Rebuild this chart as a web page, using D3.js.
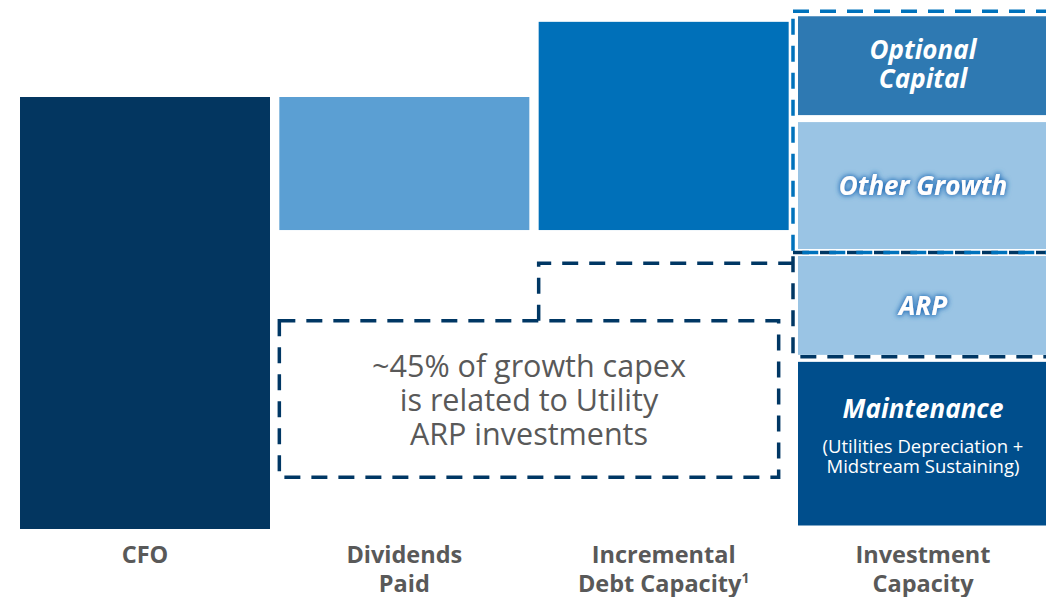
<!DOCTYPE html>
<html>
<head>
<meta charset="utf-8">
<script src="https://cdn.jsdelivr.net/npm/d3@7"></script>
<style>
  body { margin: 0; background: #fff; }
  svg { display: block; font-family: "Open Sans", "Noto Sans", sans-serif; }
</style>
</head>
<body>
<div id="chart"></div>
<script>
// columns of the waterfall
const categories = ['CFO', 'Dividends Paid', 'Incremental Debt Capacity', 'Investment Capacity'];
const categoryLines = [['CFO'], ['Dividends', 'Paid'], ['Incremental', 'Debt Capacity'], ['Investment', 'Capacity']];
// cash flow steps (CFO, dividends out, debt in)
const flowValues = [100, -30.8, 48.2];
const flowColors = ['#033660', '#5b9fd3', '#0070b9'];
// investment capacity stack, bottom to top
const capexSegments = ['Maintenance', 'ARP', 'Other Growth', 'Optional Capital'];
const capexValues = [39.5, 24.5, 31, 24.5];
const capexColors = ['#004e8c', '#9ac4e4', '#9ac4e4', '#2e79b2'];
const calloutLines = ['~45% of growth capex', 'is related to Utility', 'ARP investments'];

const width = 1046;
const height = 597;
const margin = {top: 10, bottom: 68, left: 20, right: -2};
const gap = 7;

const svg = d3.select('#chart')
  .append('svg')
  .attr('width', width)
  .attr('height', height)
  .attr('viewBox', [0, 0, width, height]);

const x = d3.scaleBand()
  .domain(d3.range(categories.length))
  .range([margin.left, width - margin.right])
  .paddingInner(0.036)
  .paddingOuter(0);

const y = d3.scaleLinear()
  .domain([0, 100])
  .range([height - margin.bottom, 97]);

// glow used on the light segments' labels
const defs = svg.append('defs');
const glow = defs.append('filter').attr('id', 'glow')
  .attr('x', '-20%').attr('y', '-50%').attr('width', '140%').attr('height', '200%');
glow.append('feMorphology').attr('in', 'SourceAlpha').attr('operator', 'dilate').attr('radius', 1.2).attr('result', 'd');
glow.append('feGaussianBlur').attr('in', 'd').attr('stdDeviation', 2.6).attr('result', 'b');
glow.append('feFlood').attr('flood-color', '#2a74ba');
glow.append('feComposite').attr('in2', 'b').attr('operator', 'in').attr('result', 'g');
const merge = glow.append('feMerge');
merge.append('feMergeNode').attr('in', 'g');
merge.append('feMergeNode').attr('in', 'SourceGraphic');

// waterfall bars
let running = 0;
const flowBars = flowValues.map((v, i) => {
  const start = i === 0 ? 0 : running;
  running = i === 0 ? v : running + v;
  return {i, lo: Math.min(start, running), hi: Math.max(start, running), color: flowColors[i]};
});

svg.append('g')
  .selectAll('rect')
  .data(flowBars)
  .join('rect')
    .attr('x', d => x(d.i))
    .attr('y', d => y(d.hi))
    .attr('width', x.bandwidth())
    .attr('height', d => y(d.lo) - y(d.hi))
    .attr('fill', d => d.color);

// stacked investment capacity
let cum = 0;
const segs = capexValues.map((v, i) => {
  const s = {name: capexSegments[i], lo: cum, hi: cum + v, color: capexColors[i], i};
  cum += v;
  return s;
});

svg.append('g')
  .selectAll('rect')
  .data(segs)
  .join('rect')
    .attr('x', x(3))
    .attr('y', d => y(d.hi) + gap / 2)
    .attr('width', x.bandwidth())
    .attr('height', d => y(d.lo) - y(d.hi) - gap)
    .attr('fill', d => d.color);

// segment labels
const cx = x(3) + x.bandwidth() / 2;
const segLabels = [
  {seg: 0, lines: [['Maintenance', -26, 'bold'], ['(Utilities Depreciation +', 9.5, 'sub'], ['Midstream Sustaining)', 29.5, 'sub']]},
  {seg: 1, lines: [['ARP', 10, 'bold']], glow: true},
  {seg: 2, lines: [['Other Growth', 9.5, 'bold']], glow: true},
  {seg: 3, lines: [['Optional', -6.5, 'bold'], ['Capital', 22.5, 'bold']]}
];

segLabels.forEach(l => {
  const s = segs[l.seg];
  const mid = (y(s.lo) + y(s.hi)) / 2;
  const g = svg.append('g').attr('filter', l.glow ? 'url(#glow)' : null);
  l.lines.forEach(([t, dy, kind]) => {
    g.append('text')
      .attr('x', cx)
      .attr('y', mid + dy)
      .attr('text-anchor', 'middle')
      .attr('fill', '#fff')
      .attr('font-size', kind === 'sub' ? 18.5 : 26)
      .attr('font-weight', kind === 'sub' ? 400 : 700)
      .attr('font-style', kind === 'sub' ? 'normal' : 'italic')
      .text(t);
  });
});

// dashed boxes around growth capex and ARP
const dash = '16,11';
svg.append('rect')
  .attr('x', x(3) - 5)
  .attr('y', y(segs[1].hi))
  .attr('width', x.bandwidth() + 20)
  .attr('height', y(segs[1].lo) - y(segs[1].hi) - 1.5)
  .attr('fill', 'none')
  .attr('stroke', '#003764')
  .attr('stroke-width', 3.5)
  .attr('stroke-dasharray', dash);

svg.append('rect')
  .attr('x', x(3) - 5)
  .attr('y', y(segs[3].hi) - 1.5)
  .attr('width', x.bandwidth() + 20)
  .attr('height', y(segs[2].lo) - y(segs[3].hi) + 1.5)
  .attr('fill', 'none')
  .attr('stroke', '#0072bc')
  .attr('stroke-width', 3.5)
  .attr('stroke-dasharray', dash);

// callout box and its connector
const boxTop = 48.2, boxBottom = 12, linkLevel = 61.5;
const bx0 = x(1), bx1 = x(2) + x.bandwidth() - 10;
svg.append('rect')
  .attr('x', bx0)
  .attr('y', y(boxTop))
  .attr('width', bx1 - bx0)
  .attr('height', y(boxBottom) - y(boxTop))
  .attr('fill', 'none')
  .attr('stroke', '#003764')
  .attr('stroke-width', 3.5)
  .attr('stroke-dasharray', dash);

svg.append('path')
  .attr('d', d3.line()([[x(2), y(boxTop)], [x(2), y(linkLevel)], [x(3) - 5, y(linkLevel)]]))
  .attr('fill', 'none')
  .attr('stroke', '#003764')
  .attr('stroke-width', 3.5)
  .attr('stroke-dasharray', dash);

const callout = svg.append('text')
  .attr('x', (bx0 + bx1) / 2)
  .attr('y', y(boxTop) + 56)
  .attr('text-anchor', 'middle')
  .attr('fill', '#595959')
  .attr('font-size', 30.5);
calloutLines.forEach((t, i) => {
  callout.append('tspan')
    .attr('x', (bx0 + bx1) / 2)
    .attr('dy', i === 0 ? 0 : 34)
    .text(t);
});

// category labels
const labels = svg.append('g')
  .attr('fill', '#595959')
  .attr('font-size', 23.5)
  .attr('font-weight', 700)
  .attr('text-anchor', 'middle');

categoryLines.forEach((lines, i) => {
  const t = labels.append('text')
    .attr('x', x(i) + x.bandwidth() / 2)
    .attr('y', height - 34);
  lines.forEach((ln, j) => {
    t.append('tspan')
      .attr('x', x(i) + x.bandwidth() / 2)
      .attr('dy', j === 0 ? 0 : 29)
      .text(ln);
    if (i === 2 && j === 1) {
      t.append('tspan').attr('font-size', 14).attr('dy', -9).text('1');
    }
  });
});
</script>
</body>
</html>
